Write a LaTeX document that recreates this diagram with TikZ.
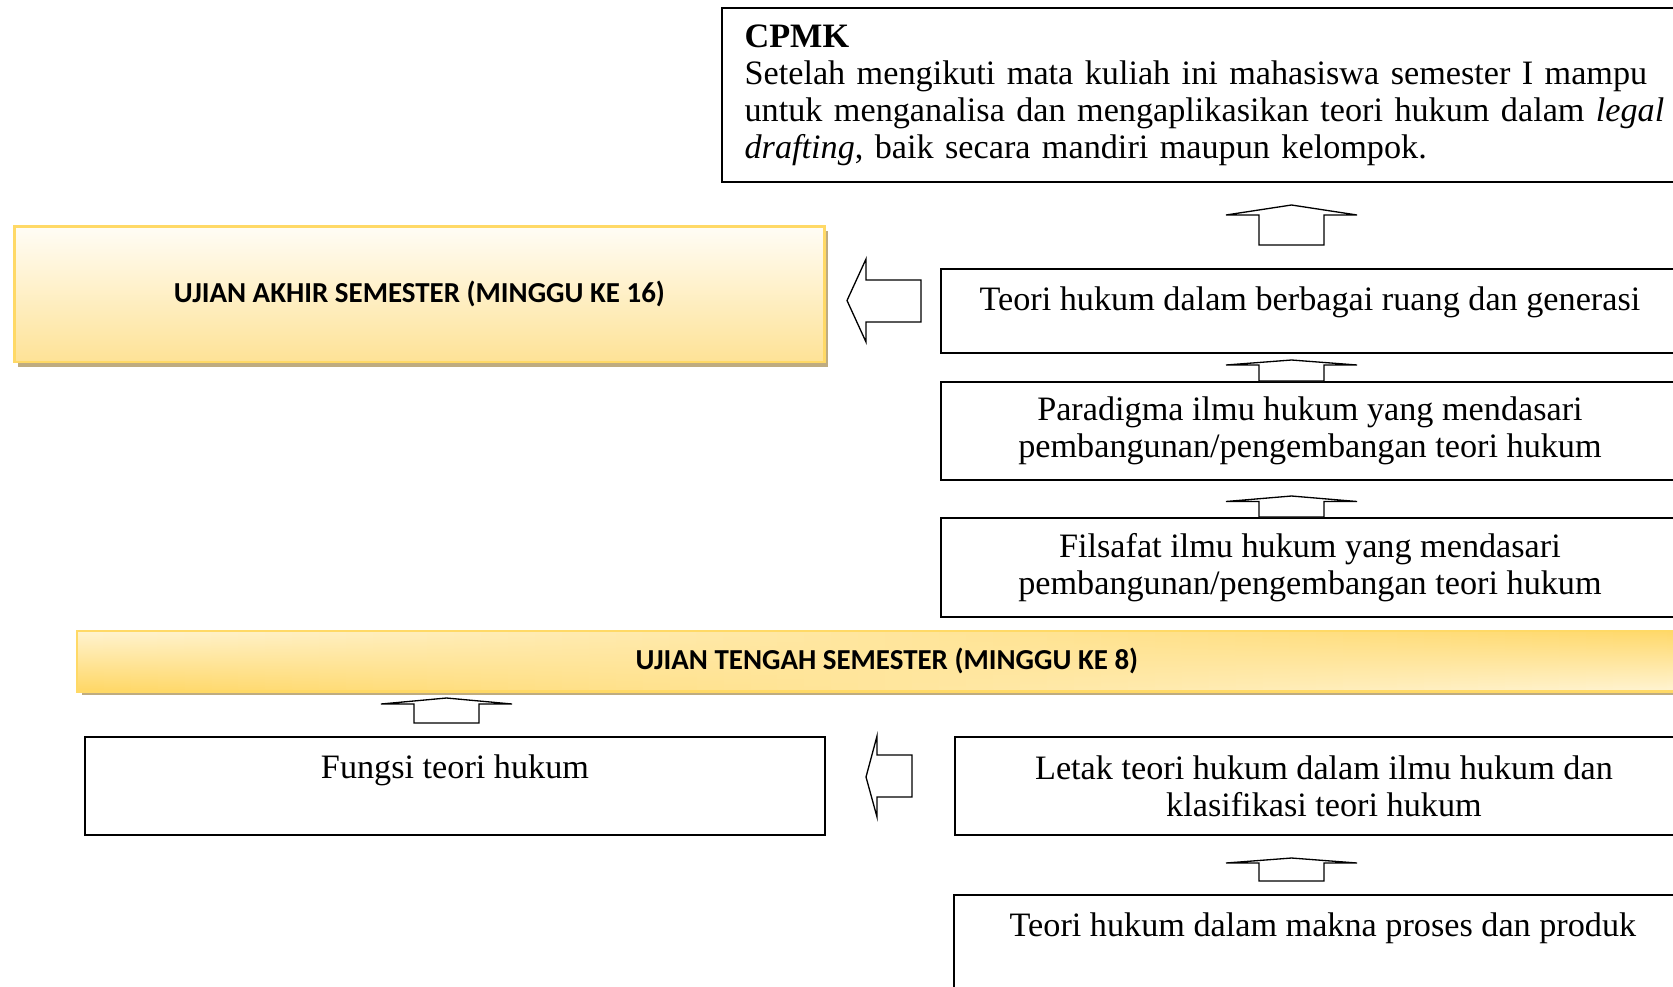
\documentclass[tikz,border=0pt]{standalone}
\usepackage{fontspec}
\setmainfont{Liberation Serif}
\newfontfamily\calibri{Carlito}
\usetikzlibrary{shadows}

\definecolor{goldline}{RGB}{255,217,102}
\definecolor{goldtop}{RGB}{255,253,246}
\definecolor{goldbottom}{RGB}{254,226,150}
\definecolor{goldshadow}{RGB}{191,172,128}
\definecolor{utsgold}{RGB}{255,216,105}
\definecolor{utscream}{RGB}{255,243,208}

\tikzset{
  whitebox/.style={draw, line width=0.75pt, anchor=north west, align=center, inner sep=0pt,
    minimum width=280.4pt, font=\fontsize{13}{14.1}\selectfont},
  goldbox/.style={draw=goldline, line width=1pt, anchor=north west, inner sep=0pt,
    font=\calibri\bfseries\fontsize{11}{13}\selectfont,
    drop shadow={shadow xshift=1.3pt, shadow yshift=-1.9pt, fill=goldshadow, opacity=1}},
  blockarrow/.style={draw, line width=0.5pt, fill=white, line join=miter},
}

\begin{document}
\begin{tikzpicture}[x=38pt, y=-38pt]
    \useasboundingbox (0,0) rectangle (16.73,9.86);
    \clip (0,0) rectangle (16.73,9.86);

    % Learning outcome
    \node[whitebox, align=left, text width=354pt, inner xsep=8.6pt, inner ysep=6pt,
      minimum height=65.9pt, font=\fontsize{13}{14.1}\selectfont] (cpmk) at (7.21,0.075)
      {\textbf{CPMK}\\
       \makebox[352pt][s]{Setelah mengikuti mata kuliah ini mahasiswa semester I mampu}\\
       \makebox[352pt][s]{untuk menganalisa dan mengaplikasikan teori hukum dalam \textit{legal}}\\
       \textit{drafting}, baik secara mandiri maupun kelompok.};

    % Exam bars
    \node[goldbox, top color=goldtop, bottom color=goldbottom, minimum width=307.8pt,
      minimum height=51.6pt] (uas) at (0.13,2.25) {UJIAN AKHIR SEMESTER (MINGGU KE 16)};

    \node[goldbox, fill=utscream, minimum width=614.5pt, minimum height=22pt] (uts) at (0.77,6.31) {};
    \foreach \i in {0,...,59} {
      \pgfmathsetmacro\p{100*\i/59}
      \shade[top color=utsgold!\p!utscream, bottom color=utscream!\p!utsgold]
        (0.77+\i*0.2695,6.31) rectangle (0.77+\i*0.2695+0.28,6.89);
    }
    \draw[goldline, line width=1pt] (uts.north west) rectangle (uts.south east);
    \node[font=\calibri\bfseries\fontsize{11}{13}\selectfont] (utstext) at (uts.center) {UJIAN TENGAH SEMESTER (MINGGU KE 8)};

    % Topic boxes
    \node[whitebox, minimum height=31.9pt, text height=15.6pt, text depth=16.3pt] (ruang) at (9.40,2.68)
      {Teori hukum dalam berbagai ruang dan generasi};
    \node[whitebox, minimum height=37.2pt] (paradigma) at (9.40,3.81)
      {Paradigma ilmu hukum yang mendasari\\ pembangunan/pengembangan teori hukum};
    \node[whitebox, minimum height=37.6pt] (filsafat) at (9.40,5.17)
      {Filsafat ilmu hukum yang mendasari\\ pembangunan/pengembangan teori hukum};
    \node[whitebox, minimum width=281.2pt, minimum height=37.2pt, text height=15.6pt, text depth=21.6pt] (fungsi) at (0.84,7.36)
      {Fungsi teori hukum};
    \node[whitebox, minimum height=37.2pt] (letak) at (9.54,7.36)
      {Letak teori hukum dalam ilmu hukum dan\\ klasifikasi teori hukum};
    \node[whitebox, minimum height=41.8pt, text height=15.6pt, text depth=26.2pt] (makna) at (9.53,8.94)
      {Teori hukum dalam makna proses dan produk};

    % Arrows
    \draw[blockarrow] (12.915,2.05) -- (13.57,2.15) -- (13.24,2.15) -- (13.24,2.45) -- (12.59,2.45) -- (12.59,2.15) -- (12.26,2.15) -- cycle;
    \draw[blockarrow] (12.915,3.60) -- (13.57,3.65) -- (13.24,3.65) -- (13.24,3.81) -- (12.59,3.81) -- (12.59,3.65) -- (12.26,3.65) -- cycle;
    \draw[blockarrow] (12.915,4.96) -- (13.57,5.015) -- (13.24,5.015) -- (13.24,5.17) -- (12.59,5.17) -- (12.59,5.015) -- (12.26,5.015) -- cycle;
    \draw[blockarrow] (12.915,8.58) -- (13.57,8.63) -- (13.24,8.63) -- (13.24,8.81) -- (12.59,8.81) -- (12.59,8.63) -- (12.26,8.63) -- cycle;
    \draw[blockarrow] (4.465,6.98) -- (5.12,7.04) -- (4.79,7.04) -- (4.79,7.23) -- (4.14,7.23) -- (4.14,7.04) -- (3.81,7.04) -- cycle;

    \draw[blockarrow] (8.47,3.005) -- (8.66,2.59) -- (8.66,2.80) -- (9.21,2.80) -- (9.21,3.22) -- (8.66,3.22) -- (8.66,3.42) -- cycle;
    \draw[blockarrow] (8.66,7.77) -- (8.77,7.36) -- (8.77,7.55) -- (9.12,7.55) -- (9.12,7.97) -- (8.77,7.97) -- (8.77,8.17) -- cycle;
\end{tikzpicture}
\end{document}
